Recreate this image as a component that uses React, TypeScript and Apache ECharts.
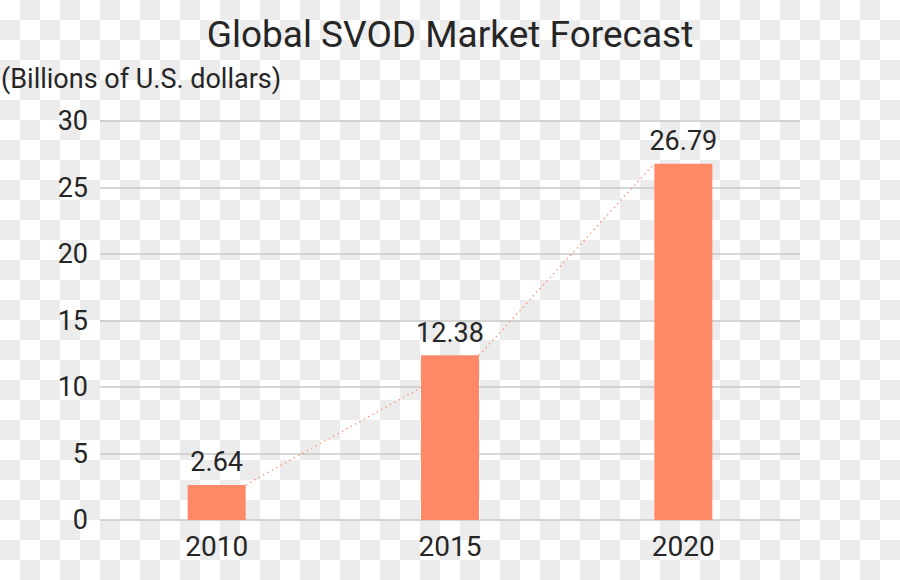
import React, { useEffect, useRef } from "react";
import * as echarts from "echarts";

const categories = ["2010", "2015", "2020"];
const marketValues = [2.64, 12.38, 26.79];
// which side of each bar's top the dotted trend line touches
const trendAnchors = ["right", "right", "left"];
const yTicks = { min: 0, max: 30, interval: 5 };

const FONT = "Roboto, 'DejaVu Sans', sans-serif";
const BAR_COLOR = "#FF8966";
const TEXT_COLOR = "#262626";
const BAR_WIDTH = 58;
const WEIGHT = 400;

export default function App() {
  const ref = useRef<HTMLDivElement>(null);

  useEffect(() => {
    if (!ref.current) return;
    const chart = echarts.init(ref.current, undefined, { renderer: "svg" });
    const option: any = {
      animation: false,
      backgroundColor: "transparent",
      textStyle: { fontFamily: FONT },
      title: [
        {
          text: "Global SVOD Market Forecast",
          left: "center",
          top: 16,
          padding: 0,
          textStyle: { fontFamily: FONT, fontSize: 37, fontWeight: WEIGHT, color: TEXT_COLOR },
        },
        {
          text: "(Billions of U.S. dollars)",
          left: 1,
          top: 65,
          padding: 0,
          textStyle: { fontFamily: FONT, fontSize: 27, fontWeight: WEIGHT, color: TEXT_COLOR },
        },
      ],
      grid: { left: 100, right: 100, top: 121, bottom: 60, containLabel: false },
      xAxis: {
        type: "category",
        data: categories,
        axisLine: { show: false },
        axisTick: { show: false },
        axisLabel: { fontFamily: FONT, fontSize: 28, fontWeight: WEIGHT, color: TEXT_COLOR, margin: 12 },
      },
      yAxis: {
        type: "value",
        min: yTicks.min,
        max: yTicks.max,
        interval: yTicks.interval,
        axisLine: { show: false },
        axisTick: { show: false },
        axisLabel: { fontFamily: FONT, fontSize: 27, fontWeight: WEIGHT, color: TEXT_COLOR, margin: 12 },
        splitLine: { show: true, lineStyle: { color: "#c8c8c8", width: 1.5 } },
      },
      series: [
        {
          type: "bar",
          data: marketValues,
          barWidth: BAR_WIDTH,
          itemStyle: { color: BAR_COLOR },
          label: {
            show: true,
            position: "top",
            distance: 9,
            fontFamily: FONT,
            fontSize: 27,
            fontWeight: WEIGHT,
            color: TEXT_COLOR,
          },
          z: 2,
        },
        {
          type: "custom",
          data: marketValues.map((v, i) => [i, v]),
          z: 3,
          renderItem: (params: any, api: any) => {
            const i = params.dataIndex;
            if (i >= marketValues.length - 1) return null;
            const half = BAR_WIDTH / 2;
            const p0 = api.coord([i, marketValues[i]]);
            const p1 = api.coord([i + 1, marketValues[i + 1]]);
            const x0 = p0[0] + (trendAnchors[i] === "right" ? half : -half);
            const x1 = p1[0] + (trendAnchors[i + 1] === "right" ? half : -half);
            return {
              type: "line",
              shape: { x1: x0, y1: p0[1], x2: x1, y2: p1[1] },
              style: { stroke: BAR_COLOR, lineWidth: 1.3, lineDash: [1.3, 3.7], fill: null },
            };
          },
        },
      ],
    };
    chart.setOption(option);
    return () => chart.dispose();
  }, []);

  return (
    <div
      style={{
        position: "absolute",
        left: 0,
        top: 0,
        width: 900,
        height: 580,
        backgroundColor: "#ffffff",
        backgroundImage: "repeating-conic-gradient(#ececec 0 25%, #ffffff 0 50%)",
        backgroundSize: "40px 40px",
      }}
    >
      <div ref={ref} style={{ width: 900, height: 580 }} />
    </div>
  );
}
